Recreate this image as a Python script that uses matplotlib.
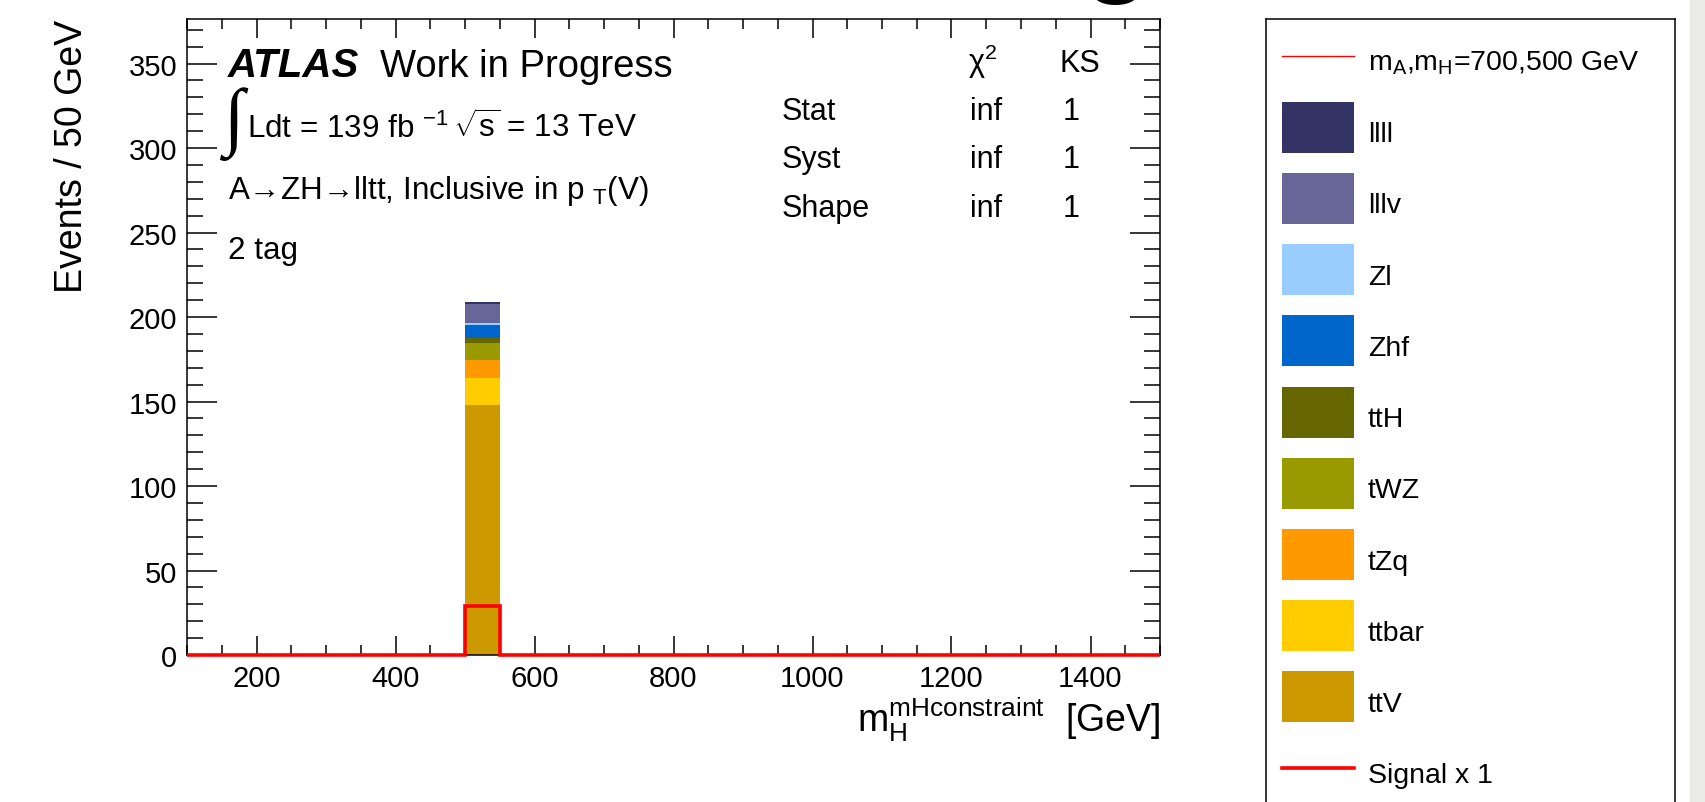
import numpy as np
import matplotlib
matplotlib.use("Agg")
import matplotlib.pyplot as plt
from matplotlib.lines import Line2D
from matplotlib.patches import Rectangle, StepPatch
from matplotlib.ticker import MultipleLocator

plt.rcParams["font.family"] = ["Liberation Sans", "DejaVu Sans"]
plt.rcParams["mathtext.fontset"] = "custom"
plt.rcParams["mathtext.rm"] = "Liberation Sans"
plt.rcParams["mathtext.it"] = "Liberation Sans:italic"
plt.rcParams["mathtext.bf"] = "Liberation Sans:bold"
plt.rcParams["mathtext.default"] = "regular"

W, H = 1705, 803

# ---- data ----
bin_edges = np.arange(100, 1501, 50)
filled_bin_low = 500  # only the 500-550 GeV bin has entries

# stack order: bottom -> top
samples = ["ttV", "ttbar", "tZq", "tWZ", "ttH", "Zhf", "Zl", "lllv", "llll"]
sample_yields = [148.0, 16.0, 10.8, 9.8, 2.8, 7.9, 1.0, 11.4, 1.4]
sample_colors = ["#cc9900", "#ffcc00", "#ff9900", "#999900", "#666600",
                 "#0066cc", "#99ccff", "#666699", "#333366"]
signal_yield = 29.0

table_rows = ["Stat", "Syst", "Shape"]
table_chi2 = ["inf", "inf", "inf"]
table_ks = ["1", "1", "1"]

ibin = np.searchsorted(bin_edges, filled_bin_low)


def hist_of(y):
    h = np.zeros(len(bin_edges) - 1)
    h[ibin] = y
    return h


# ---- figure ----
fig = plt.figure(figsize=(W / 100, H / 100), dpi=100)
ax = fig.add_axes([187 / W, 1 - 656 / H, (1160 - 187) / W, (656 - 20) / H])

base = np.zeros(len(bin_edges) - 1)
stack_artists = {}
for name, y, c in zip(samples, sample_yields, sample_colors):
    h = hist_of(y)
    art = ax.stairs(base + h, bin_edges, baseline=base.copy(), fill=True,
                    color=c, lw=0)
    stack_artists[name] = art
    base = base + h

sig = ax.stairs(hist_of(signal_yield), bin_edges, baseline=None,
                color="red", lw=2.6, zorder=5, clip_on=False)

ax.set_xlim(bin_edges[0], bin_edges[-1])
ax.set_ylim(0, 1.8 * base.max())

ax.xaxis.set_major_locator(MultipleLocator(200))
ax.xaxis.set_minor_locator(MultipleLocator(50))
ax.yaxis.set_major_locator(MultipleLocator(50))
ax.yaxis.set_minor_locator(MultipleLocator(10))
ax.tick_params(which="both", direction="in", top=True, right=True,
               labelsize=21, width=1.1)
ax.tick_params(axis="x", which="major", length=13.7, pad=6.5)
ax.tick_params(axis="x", which="minor", length=7.2)
ax.tick_params(axis="y", which="major", length=21.6, pad=7)
ax.tick_params(axis="y", which="minor", length=11.5)
for sp in ax.spines.values():
    sp.set_linewidth(1.1)

ax.set_ylabel("Events / 50 GeV", fontsize=27)
ax.yaxis.set_label_coords((82 - 187) / (1160 - 187), 1.0)
ax.yaxis.label.set_ha("right")
ax.yaxis.label.set_va("baseline")

ax.set_xlabel(r"m$_{H}^{mHconstraint}$  [GeV]", fontsize=27)
ax.xaxis.set_label_coords(1.0, -(732 - 656) / (656 - 20))
ax.xaxis.label.set_ha("right")
ax.xaxis.label.set_va("baseline")


def fig_text(x, y, s, **kw):
    kw.setdefault("va", "baseline")
    return fig.text(x / W, 1 - y / H, s, **kw)


# ---- labels inside the plot ----
fig_text(228, 77, "ATLAS", fontsize=29, weight="bold", style="italic")
fig_text(380, 77, "Work in Progress", fontsize=27.5)
fig_text(224, 124, "\u222b", fontsize=54, va="center",
         family=["Liberation Serif", "DejaVu Serif"])
fig_text(247, 138, r"Ldt = 139 fb $^{-1}$", fontsize=22.6)
fig_text(453, 138, r"$\sqrt{s}$ = 13 TeV", fontsize=22.6)
fig_text(228, 199, "A\u2192ZH\u2192lltt, Inclusive in p $_{T}$(V)", fontsize=22.6)
fig_text(228, 259, "2 tag", fontsize=22.6)

# chi2 / KS table
fig_text(968, 72, r"$\chi^{2}$", fontsize=22)
fig_text(1060, 72, "KS", fontsize=22)
for k, (r, c2, ks) in enumerate(zip(table_rows, table_chi2, table_ks)):
    yb = 120 + 48.5 * k
    fig_text(782, yb, r, fontsize=22)
    fig_text(970, yb, c2, fontsize=22)
    fig_text(1063, yb, ks, fontsize=22)

# ---- legend box ----
leg_ax = fig.add_axes([1266 / W, -0.1, (1675 - 1266) / W, 1 - 20 / H + 0.1])
leg_ax.set_xticks([])
leg_ax.set_yticks([])
leg_ax.spines["bottom"].set_visible(False)
for sp in leg_ax.spines.values():
    sp.set_linewidth(1.1)

SWATCH_H = 36.7  # points


class RowHandler:
    # ROOT-like legend row: tall colour box, or a line through its middle
    def legend_artist(self, legend, orig_handle, fontsize, handlebox):
        x0, y0 = -handlebox.xdescent, -handlebox.ydescent
        w = handlebox.width
        if isinstance(orig_handle, Line2D):
            art = Line2D([x0, x0 + w], [y0 + SWATCH_H / 2] * 2,
                         color=orig_handle.get_color(), lw=orig_handle.get_linewidth())
        elif not orig_handle.get_fill():
            art = Line2D([x0, x0 + w], [y0 + SWATCH_H / 2] * 2,
                         color=orig_handle.get_edgecolor(), lw=orig_handle.get_linewidth())
        else:
            art = Rectangle((x0, y0), w, SWATCH_H,
                            facecolor=orig_handle.get_facecolor(), edgecolor="none")
        handlebox.add_artist(art)
        return art


handles = [Line2D([], [], color="red", lw=1.0)]
labels = [r"m$_{A}$,m$_{H}$=700,500 GeV"]
for name in reversed(samples):
    handles.append(stack_artists[name])
    labels.append(name)
handles.append(sig)
labels.append("Signal x 1")

fig.legend(handles, labels, loc="upper left",
           bbox_to_anchor=(1282 / W, 1 - 41.2 / H), bbox_transform=fig.transFigure,
           frameon=False, fontsize=20.5, handlelength=2.53, handleheight=1.85,
           labelspacing=1.054, handletextpad=0.49, borderpad=0, borderaxespad=0,
           handler_map={Line2D: RowHandler(), StepPatch: RowHandler()})

# slide remnants: grey strip on the right, cut-off title letter on top
fig.patches.append(Rectangle((1690 / W, 0), 15 / W, 1, transform=fig.transFigure,
                             color="#ebebe8", zorder=0))
fig_text(1116, -18, "g", fontsize=80, weight="bold", ha="center",
         family="Liberation Sans")

fig.savefig("out.png", dpi=100)
